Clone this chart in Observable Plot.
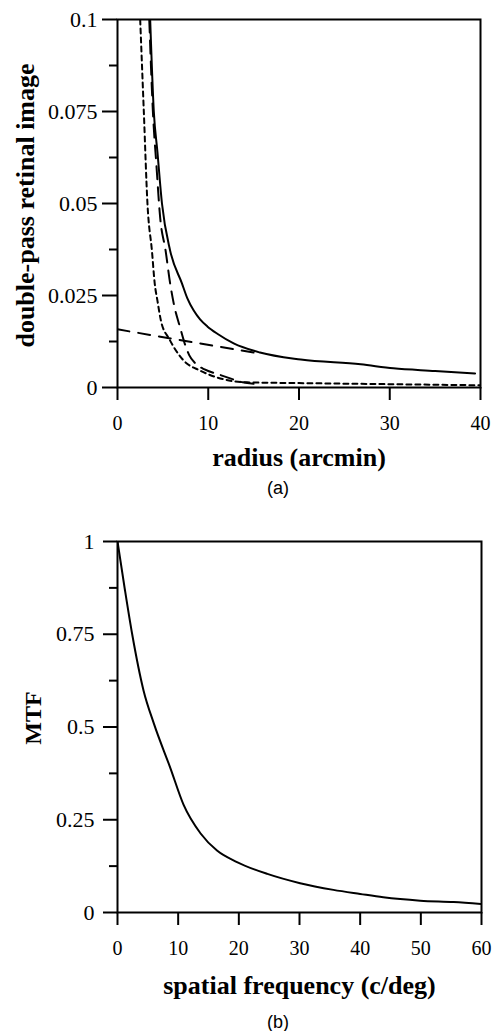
<!DOCTYPE html>
<html><head><meta charset="utf-8">
<script src="https://cdn.jsdelivr.net/npm/d3@7"></script>
<script src="https://cdn.jsdelivr.net/npm/@observablehq/plot@0.6"></script>
<style>
html,body{margin:0;padding:0;background:#fff;overflow:hidden;}
#wrap{width:492px;}
.cap{font-family:"Liberation Sans",Arial,sans-serif;font-size:18px;line-height:26px;padding-left:64px;width:428px;text-align:center;color:#000;}
svg{display:block;}
</style></head><body><div id="wrap"></div>
<script>
// ---------- Panel (a): double-pass retinal image vs radius ----------
const xTicksA = [0, 10, 20, 30, 40];
const yTicksA = [0, 0.025, 0.05, 0.075, 0.1];
const yMinorA = [0.0125, 0.0375, 0.0625, 0.0875];

const radiusSolidA = [3.6, 4.0, 4.4, 4.9, 5.8, 7.1, 7.7, 8.4, 9.1, 9.9, 11.0, 12.8, 15.7, 20.2, 26.8, 30.4, 35.0, 39.4];
const valueSolidA  = [0.1, 0.075, 0.064, 0.05, 0.0372, 0.0283, 0.0242, 0.0209, 0.0185, 0.0166, 0.0146, 0.012, 0.0095, 0.0076, 0.0063, 0.0052, 0.0045, 0.0038];

const radiusLongA = [3.5, 3.9, 4.3, 4.7, 5.3, 5.8, 6.2, 6.9, 7.4, 7.9, 8.6, 9.6, 11.1, 12.5, 13.8, 15.0];
const valueLongA  = [0.1, 0.075, 0.06, 0.0462, 0.0372, 0.0283, 0.0228, 0.0163, 0.012, 0.0088, 0.0065, 0.0049, 0.0036, 0.0024, 0.0014, 0.001];

const radiusShortA = [2.5, 2.9, 3.3, 3.8, 4.1, 4.4, 4.8, 5.7, 7.3, 9.1, 11.0, 14.3, 20, 30, 40];
const valueShortA  = [0.1, 0.075, 0.05, 0.037, 0.0283, 0.0236, 0.018, 0.0132, 0.0073, 0.0046, 0.0027, 0.0014, 0.0012, 0.0009, 0.0006];

const radiusTailA = [0, 15.7];
const valueTailA  = [0.0158, 0.0092];

// ---------- Panel (b): MTF vs spatial frequency ----------
const xTicksB = [0, 10, 20, 30, 40, 50, 60];
const yTicksB = [0, 0.25, 0.5, 0.75, 1];
const yMinorB = [0.125, 0.375, 0.625, 0.875];
const freqB = [0, 1.2, 2.4, 4.3, 6.0, 8.7, 10.9, 13.7, 16.4, 19.7, 24.7, 30.1, 35.6, 40, 43.8, 49.9, 55.4, 60];
const mtfB  = [1, 0.872, 0.752, 0.598, 0.509, 0.39, 0.29, 0.213, 0.167, 0.136, 0.104, 0.079, 0.061, 0.05, 0.041, 0.032, 0.028, 0.023];

const titleXA = "radius (arcmin)";
const titleYA = "double-pass retinal image";
const titleXB = "spatial frequency (c/deg)";
const titleYB = "MTF";

const zip = (xs, ys) => xs.map((x, i) => ({x, y: ys[i]}));
const fmt = d => `${d}`;
const serif = '"Liberation Serif", "Times New Roman", serif';
const baseStyle = {fontFamily: serif, fontSize: "20px", background: "#fff", color: "#000", overflow: "visible"};
const lineOpts = {x: "x", y: "y", stroke: "#000", strokeWidth: 2, curve: "monotone-x", clip: true};
const blank = () => "";

const chartA = Plot.plot({
  width: 492, height: 475,
  marginTop: 19, marginLeft: 117, marginRight: 12, marginBottom: 88,
  style: baseStyle,
  x: {domain: [0, 40]},
  y: {domain: [0, 0.1]},
  marks: [
    Plot.axisY(yMinorA, {tickSize: 8, tickFormat: blank, strokeWidth: 2, label: null}),
    Plot.axisY(yTicksA, {tickSize: 15, tickFormat: blank, strokeWidth: 2, label: null}),
    Plot.axisX(xTicksA, {tickSize: 13, tickFormat: blank, strokeWidth: 2, label: null}),
    Plot.text(yTicksA, {y: d => d, text: fmt, frameAnchor: "left", dx: -20, textAnchor: "end", lineAnchor: "middle", fontSize: 22, fontFamily: serif, fill: "#000"}),
    Plot.text(xTicksA, {x: d => d, text: fmt, frameAnchor: "bottom", dy: 36, textAnchor: "middle", lineAnchor: "middle", fontSize: 20, fontFamily: serif, fill: "#000"}),
    Plot.frame({stroke: "#000", strokeWidth: 2}),
    Plot.line(zip(radiusTailA, valueTailA), {...lineOpts, strokeDasharray: "12,9", curve: "linear"}),
    Plot.line(zip(radiusShortA, valueShortA), {...lineOpts, strokeDasharray: "5,4"}),
    Plot.line(zip(radiusLongA, valueLongA), {...lineOpts, strokeDasharray: "13,8"}),
    Plot.line(zip(radiusSolidA, valueSolidA), lineOpts),
    Plot.text([titleXA], {text: d => d, frameAnchor: "bottom", dy: 70, lineAnchor: "middle", textAnchor: "middle", fontWeight: "bold", fontSize: 26, fill: "#000"}),
    Plot.text([titleYA], {text: d => d, frameAnchor: "left", dx: -92, dy: 2, rotate: -90, lineAnchor: "middle", textAnchor: "middle", fontWeight: "bold", fontSize: 26, fill: "#000"})
  ]
});

const chartB = Plot.plot({
  width: 492, height: 500,
  marginTop: 40, marginLeft: 117, marginRight: 11, marginBottom: 89,
  style: baseStyle,
  x: {domain: [0, 60]},
  y: {domain: [0, 1]},
  marks: [
    Plot.axisY(yMinorB, {tickSize: 8, tickFormat: blank, strokeWidth: 2, label: null}),
    Plot.axisY(yTicksB, {tickSize: 14, tickFormat: blank, strokeWidth: 2, label: null}),
    Plot.axisX(xTicksB, {tickSize: 13, tickFormat: blank, strokeWidth: 2, label: null}),
    Plot.text(yTicksB, {y: d => d, text: fmt, frameAnchor: "left", dx: -23, textAnchor: "end", lineAnchor: "middle", fontSize: 22, fontFamily: serif, fill: "#000"}),
    Plot.text(xTicksB, {x: d => d, text: fmt, frameAnchor: "bottom", dy: 36, textAnchor: "middle", lineAnchor: "middle", fontSize: 20, fontFamily: serif, fill: "#000"}),
    Plot.frame({stroke: "#000", strokeWidth: 2}),
    Plot.line(zip(freqB, mtfB), lineOpts),
    Plot.text([titleXB], {text: d => d, frameAnchor: "bottom", dy: 73, lineAnchor: "middle", textAnchor: "middle", fontWeight: "bold", fontSize: 26, fill: "#000"}),
    Plot.text([titleYB], {text: d => d, frameAnchor: "left", dx: -84, dy: -9, rotate: -90, lineAnchor: "middle", textAnchor: "middle", fontWeight: "bold", fontSize: 24, fill: "#000"})
  ]
});

const wrap = document.getElementById("wrap");
wrap.appendChild(chartA);
const capA = document.createElement("div"); capA.className = "cap"; capA.textContent = "(a)"; wrap.appendChild(capA);
wrap.appendChild(chartB);
const capB = document.createElement("div"); capB.className = "cap"; capB.style.paddingTop = "8px"; capB.textContent = "(b)"; wrap.appendChild(capB);
</script>
</body></html>
